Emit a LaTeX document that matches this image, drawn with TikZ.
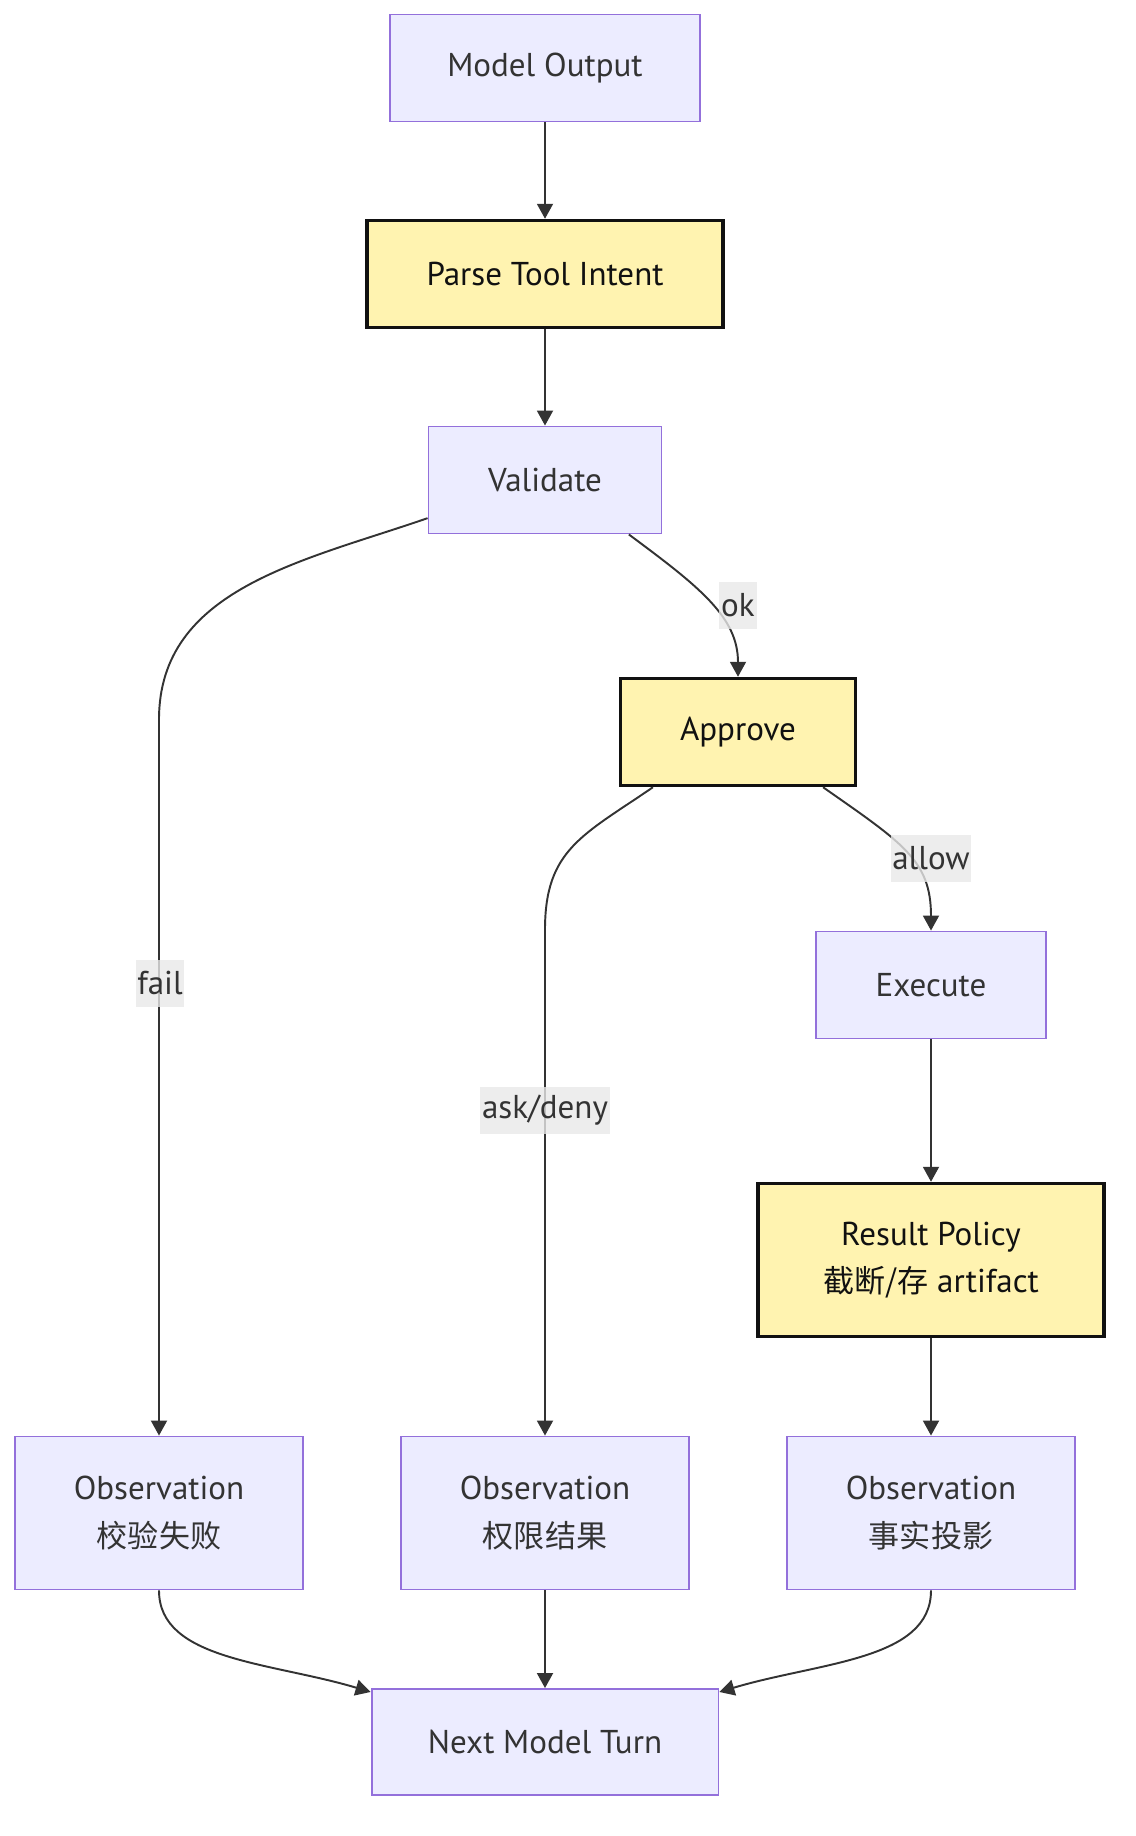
\documentclass[tikz,border=0pt]{standalone}
\usepackage{fontspec}
\setmainfont{PT Sans}
\newfontfamily\cjk[Scale=0.94]{Noto Sans CJK SC}
\usepackage{xcolor}
\definecolor{flowfill}{HTML}{ECECFF}
\definecolor{flowline}{HTML}{9370DB}
\definecolor{flowtext}{HTML}{333333}
\definecolor{gatefill}{HTML}{FFF3B0}
\definecolor{gateline}{HTML}{111111}
\definecolor{edgedark}{HTML}{333333}
\definecolor{labelbg}{HTML}{E8E8E8}
\usetikzlibrary{arrows.meta, calc}
\newcommand{\nodefont}{\fontsize{18.8}{27}\selectfont}

\begin{document}
\begin{tikzpicture}[x=0.02cm, y=-0.02cm,
  flow/.style={draw=flowline, fill=flowfill, line width=1.1pt, text=flowtext,
    font=\nodefont, align=center, inner sep=0pt},
  gate/.style={flow, draw=gateline, fill=gatefill, line width=2pt, text=gateline},
  arrowline/.style={draw=edgedark, line width=1.1pt,
    -{Triangle[length=0.3cm, width=0.32cm]}},
  elabel/.style={fill=labelbg, fill opacity=0.8, text opacity=1, text=flowtext,
    font=\nodefont, inner xsep=1pt, inner ysep=0pt, minimum height=0.94cm}]
  \useasboundingbox (0,0) rectangle (1136,1836);

  % main line
  \node[flow, minimum width=6.2cm, minimum height=2.14cm] (mo) at (545,68) {Model Output};
  \node[gate, minimum width=7.12cm, minimum height=2.14cm] (pti) at (545,274) {Parse Tool Intent};
  \node[flow, minimum width=4.66cm, minimum height=2.14cm] (val) at (545,480) {Validate};
  \node[gate, minimum width=4.7cm, minimum height=2.14cm] (appr) at (738,732) {Approve};
  \node[flow, minimum width=4.6cm, minimum height=2.14cm] (exe) at (931,985) {Execute};
  \node[gate, minimum width=6.92cm, minimum height=3.06cm] (rp) at (931,1260)
    {Result Policy\\{\cjk 截断/存} artifact};

  % observations
  \foreach \x/\n/\t in {159/obsA/校验失败, 545/obsB/权限结果, 931/obsC/事实投影} {
    \node[flow, minimum width=5.76cm, minimum height=3.06cm] (\n) at (\x,1513)
      {Observation\\{\cjk \t}};
  }
  \node[flow, minimum width=6.94cm, minimum height=2.12cm] (next) at (545,1742) {Next Model Turn};

  \draw[arrowline] (mo) -- (pti);
  \draw[arrowline] (pti) -- (val);
  \draw[arrowline] (val.198) .. controls +(-124,43) and +(0,-131) ..
    ($(obsA.north)+(0,-716)$) -- (obsA.north);
  \draw[arrowline] (val.327) .. controls +(70,52) and +(0,-60) .. (appr.north);
  \draw[arrowline] (appr.213) .. controls +(-70,48) and +(0,-80) ..
    ($(obsB.north)+(0,-506)$) -- (obsB.north);
  \draw[arrowline] (appr.327) .. controls +(80,56) and +(0,-70) .. (exe.north);
  \draw[arrowline] (exe) -- (rp);
  \draw[arrowline] (rp) -- (obsC);
  \draw[arrowline] (obsA.south) .. controls +(0,70) and +(-100,-30) .. (next.164);
  \draw[arrowline] (obsB) -- (next);
  \draw[arrowline] (obsC.south) .. controls +(0,70) and +(100,-30) .. (next.16);

  % edge labels
  \node[elabel] (lok) at (738,605) {ok};
  \node[elabel] (lfail) at (160,983) {fail};
  \node[elabel] (lask) at (545,1110) {ask/deny};
  \node[elabel] (lallow) at (931,858) {allow};
\end{tikzpicture}
\end{document}
